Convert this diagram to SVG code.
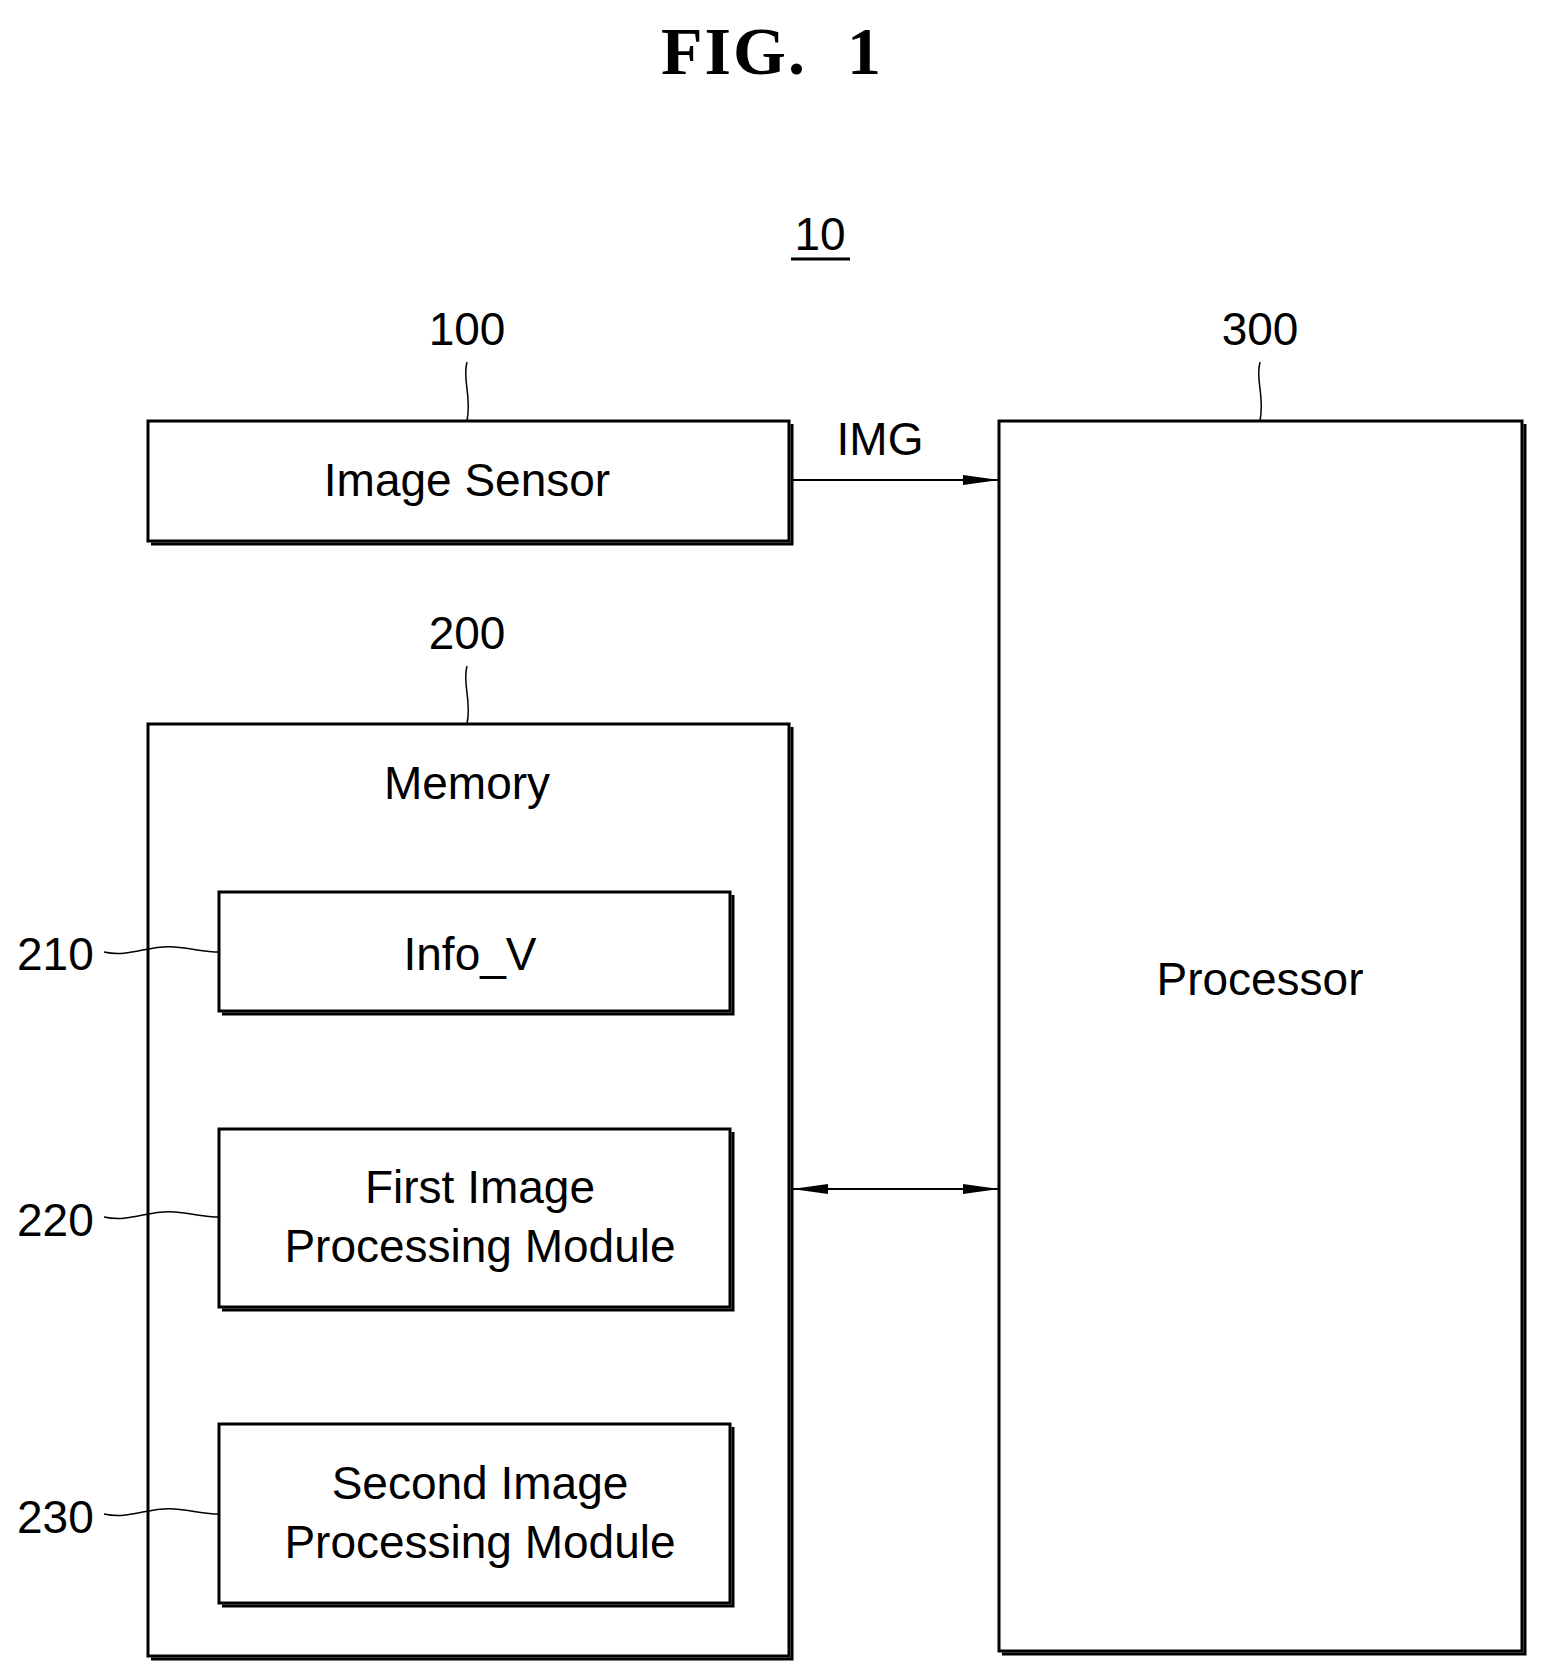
<svg xmlns="http://www.w3.org/2000/svg" width="1544" height="1680" viewBox="0 0 1544 1680">
<style>
.b{fill:#fff;stroke:#000;stroke-width:3}
.s{fill:none;stroke:#000;stroke-width:3}
.l{fill:none;stroke:#000;stroke-width:1.5}
.t{font-family:"Liberation Sans",Arial,sans-serif;font-size:46px;text-anchor:middle;fill:#000}
.n{font-family:"Liberation Sans",Arial,sans-serif;font-size:46px;fill:#000}
</style>
<defs>
<marker id="a" markerWidth="36" markerHeight="14" refX="36" refY="7" orient="auto-start-reverse" markerUnits="userSpaceOnUse"><path d="M0,2 L36,7 L0,12 Z" fill="#000"/></marker>
</defs>
<rect width="1544" height="1680" fill="#fff"/>
<text x="772" y="74" style="font-family:'Liberation Serif',serif;font-size:68px;font-weight:bold;text-anchor:middle;letter-spacing:2px">FIG.<tspan dx="40">1</tspan></text>
<text class="t" x="820" y="250">10</text>
<line x1="791" y1="259" x2="850" y2="259" stroke="#000" stroke-width="3"/>
<g id="n100">
<rect class="b" x="148" y="421" width="641" height="120"/>
<path class="s" d="M792,424 V544 H151"/>
<text class="t" x="467" y="496">Image Sensor</text>
<text class="t" x="467" y="345">100</text>
<path class="l" d="M467,362 C462,380 472,395 467,421"/>
</g>
<g id="n300">
<rect class="b" x="999" y="421" width="523" height="1230"/>
<path class="s" d="M1525,424 V1654 H1002"/>
<text class="t" x="1260" y="995">Processor</text>
<text class="t" x="1260" y="345">300</text>
<path class="l" d="M1260,362 C1255,380 1265,395 1260,421"/>
</g>
<g id="n200">
<rect class="b" x="148" y="724" width="641" height="932"/>
<path class="s" d="M792,727 V1659 H151"/>
<text class="t" x="467" y="799">Memory</text>
<text class="t" x="467" y="649">200</text>
<path class="l" d="M467,666 C462,684 472,700 467,724"/>
</g>
<g id="n210">
<rect class="b" x="219" y="892" width="511" height="119"/>
<path class="s" d="M733,895 V1014 H222"/>
<text class="t" x="470" y="970">Info_V</text>
<text class="n" x="17" y="970">210</text>
<path class="l" d="M104,952 C130,958 150,944 175,947 C195,949 205,952 219,952"/>
</g>
<g id="n220">
<rect class="b" x="219" y="1129" width="511" height="178"/>
<path class="s" d="M733,1132 V1310 H222"/>
<text class="t" x="480" y="1203">First Image</text>
<text class="t" x="480" y="1262">Processing Module</text>
<text class="n" x="17" y="1236">220</text>
<path class="l" d="M104,1217 C130,1223 150,1209 175,1212 C195,1214 205,1217 219,1217"/>
</g>
<g id="n230">
<rect class="b" x="219" y="1424" width="511" height="179"/>
<path class="s" d="M733,1427 V1606 H222"/>
<text class="t" x="480" y="1499">Second Image</text>
<text class="t" x="480" y="1558">Processing Module</text>
<text class="n" x="17" y="1533">230</text>
<path class="l" d="M104,1514 C130,1520 150,1506 175,1509 C195,1511 205,1514 219,1514"/>
</g>
<g id="connectors">
<line x1="792" y1="480" x2="999" y2="480" stroke="#000" stroke-width="2" marker-end="url(#a)"/>
<text class="t" x="880" y="455">IMG</text>
<line x1="792" y1="1189" x2="999" y2="1189" stroke="#000" stroke-width="2" marker-start="url(#a)" marker-end="url(#a)"/>
</g>
</svg>
